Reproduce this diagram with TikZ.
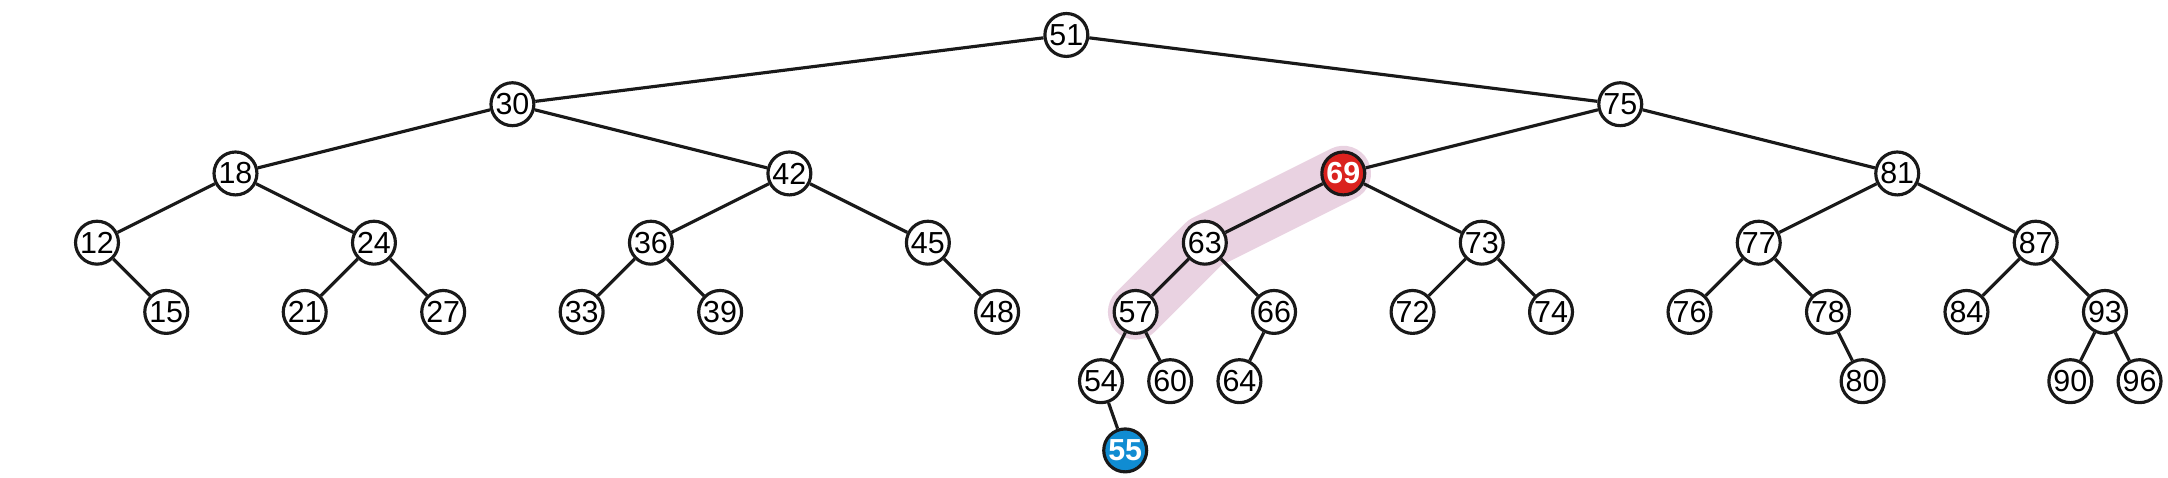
\documentclass[tikz,border=0pt]{standalone}
\usepackage{fontspec}
\setmainfont{Liberation Sans}
\definecolor{hl}{RGB}{233,210,225}
\definecolor{nred}{RGB}{218,34,30}
\definecolor{nblue}{RGB}{16,140,210}
\definecolor{ink}{RGB}{25,25,25}
\pgfdeclarelayer{bg}
\pgfsetlayers{bg,main}
\begin{document}
\begin{tikzpicture}[
  nd/.style={circle,draw=ink,line width=1.3pt,fill=white,minimum size=0.62cm,inner sep=0pt,font=\fontsize{12.5}{12.5}\selectfont},
  redn/.style={nd,fill=nred,text=white,font=\fontsize{12.5}{12.5}\selectfont\bfseries},
  bluen/.style={nd,fill=nblue,text=white,font=\fontsize{12.5}{12.5}\selectfont\bfseries},
  ed/.style={draw=ink,line width=1.3pt},
  band/.style={draw=hl,line width=0.8cm,line cap=round,line join=round}
]
\useasboundingbox (-1.401,0.505) rectangle (29.911,-6.398);
% nodes
\node[nd] (n51) at (14,0) {51};
\node[nd] (n30) at (6,-1) {30};
\node[nd] (n75) at (22,-1) {75};
\node[nd] (n18) at (2,-2) {18};
\node[nd] (n42) at (10,-2) {42};
\node[redn] (n69) at (18,-2) {69};
\node[nd] (n81) at (26,-2) {81};
\node[nd] (n12) at (0,-3) {12};
\node[nd] (n24) at (4,-3) {24};
\node[nd] (n36) at (8,-3) {36};
\node[nd] (n45) at (12,-3) {45};
\node[nd] (n63) at (16,-3) {63};
\node[nd] (n73) at (20,-3) {73};
\node[nd] (n77) at (24,-3) {77};
\node[nd] (n87) at (28,-3) {87};
\node[nd] (n15) at (1,-4) {15};
\node[nd] (n21) at (3,-4) {21};
\node[nd] (n27) at (5,-4) {27};
\node[nd] (n33) at (7,-4) {33};
\node[nd] (n39) at (9,-4) {39};
\node[nd] (n48) at (13,-4) {48};
\node[nd] (n57) at (15,-4) {57};
\node[nd] (n66) at (17,-4) {66};
\node[nd] (n72) at (19,-4) {72};
\node[nd] (n74) at (21,-4) {74};
\node[nd] (n76) at (23,-4) {76};
\node[nd] (n78) at (25,-4) {78};
\node[nd] (n84) at (27,-4) {84};
\node[nd] (n93) at (29,-4) {93};
\node[nd] (n54) at (14.5,-5) {54};
\node[nd] (n60) at (15.5,-5) {60};
\node[nd] (n64) at (16.5,-5) {64};
\node[nd] (n80) at (25.5,-5) {80};
\node[nd] (n90) at (28.5,-5) {90};
\node[nd] (n96) at (29.5,-5) {96};
\node[bluen] (n55) at (14.85,-6) {55};
% highlight band and edges behind nodes
\begin{pgfonlayer}{bg}
\draw[band] (n69.center) -- (n63.center) -- (n57.center);
\foreach \a/\b in {51/30,51/75,30/18,30/42,18/12,18/24,12/15,24/21,24/27,42/36,42/45,36/33,36/39,45/48,75/69,75/81,69/63,69/73,63/57,63/66,57/54,57/60,54/55,66/64,73/72,73/74,81/77,81/87,77/76,77/78,78/80,87/84,87/93,93/90,93/96}
  \draw[ed] (n\a) -- (n\b);
\end{pgfonlayer}
\end{tikzpicture}
\end{document}
